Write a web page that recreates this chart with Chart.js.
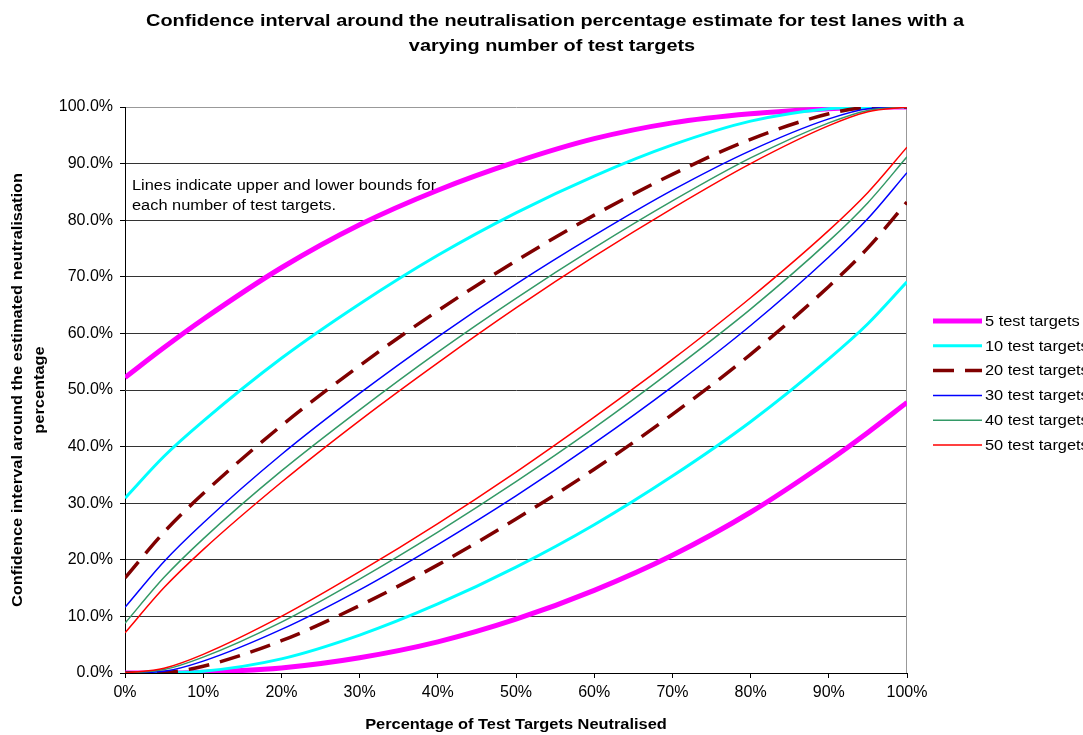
<!DOCTYPE html>
<html>
<head>
<meta charset="utf-8">
<script src="https://cdn.jsdelivr.net/npm/chart.js@4.4.1/dist/chart.umd.min.js"></script>
<style>
body{margin:0;background:#fff}
canvas{display:block}
</style>
</head>
<body>
<canvas id="ciChart" width="1083" height="735"></canvas>
<script>
// percentage neutralised (x)
const xPct=[0,5,10,20,30,40,50,60,70,80,90,95,100];

// upper / lower bounds, per number of test targets
const up5 =[52.2,57.5,62.5,71.6,79.2,85.3,90.3,94.4,97.2,98.8,99.7,99.95,100];
const lo5 =[0,0,0.15,0.9,2.7,5.5,9.5,14.6,20.8,28.4,37.5,42.5,47.8];
const up10=[30.9,38.3,44.5,55.6,65.2,73.8,81.3,87.8,93.3,97.5,99.7,99.95,100];
const lo10=[0,0.05,0.3,2.5,6.7,12.2,18.7,26.2,34.8,44.4,55.5,61.7,69.1];
const up20=[16.8,24.9,31.7,43.7,54.3,64.0,72.8,80.9,88.1,94.3,98.8,99.9,100];
const lo20=[0,0.1,1.2,5.7,11.9,19.1,27.2,36.0,45.7,56.3,68.3,75.1,83.2];
const up30=[11.6,19.7,26.5,38.6,49.4,59.4,68.7,77.3,85.3,92.3,97.9,99.7,100];
const lo30=[0,0.3,2.1,7.7,14.7,22.7,31.3,40.6,50.6,61.4,73.5,80.3,88.4];
const up40=[8.8,16.9,23.7,35.7,46.5,56.7,66.2,75.1,83.4,91.0,97.2,99.4,100];
const lo40=[0,0.6,2.8,9.0,16.6,24.9,33.8,43.3,53.5,64.3,76.3,83.1,91.2];
const up50=[7.1,15.1,21.8,33.7,44.6,54.8,64.5,73.6,82.1,90.0,96.7,99.15,100];
const lo50=[0,0.85,3.3,10.0,17.9,26.4,35.5,45.2,55.4,66.3,78.2,84.9,92.9];

const yTicks=[0,10,20,30,40,50,60,70,80,90,100];
const xTicks=[0,10,20,30,40,50,60,70,80,90,100];

const series=[
  {label:'5 test targets', up:up5, lo:lo5, color:'#FF00FF', w:5, dash:[]},
  {label:'10 test targets',up:up10,lo:lo10,color:'#00FFFF', w:3, dash:[]},
  {label:'20 test targets',up:up20,lo:lo20,color:'#800000', w:3.5, dash:[21,11]},
  {label:'30 test targets',up:up30,lo:lo30,color:'#0000FF', w:1.5, dash:[]},
  {label:'40 test targets',up:up40,lo:lo40,color:'#339966', w:1.5, dash:[]},
  {label:'50 test targets',up:up50,lo:lo50,color:'#FF0000', w:1.5, dash:[]}
];

const FONT='"Liberation Sans", Arial, sans-serif';
const SX=1.17; // the original text runs a bit wide
Chart.defaults.font.family=FONT;
Chart.defaults.color='#000';

function pts(ys){ return xPct.map((x,i)=>({x:x,y:ys[i]})) }

const datasets=[];
series.forEach((s,i)=>{
  [s.up,s.lo].forEach(ys=>{
    datasets.push({
      label:s.label,
      data:pts(ys),
      borderColor:s.color,
      borderWidth:s.w,
      borderDash:s.dash,
      pointRadius:0,
      fill:false,
      cubicInterpolationMode:'monotone',
      order:series.length-i
    });
  });
});

function txt(c,str,x,y,font,align,rot){
  c.save();
  c.translate(x,y);
  if(rot) c.rotate(rot);
  c.scale(SX,1);
  c.font=font;
  c.textAlign=align||'left';
  c.textBaseline='middle';
  c.fillText(str,0,0);
  c.restore();
}

// titles, note, legend, plot border
const decor={
  id:'decor',
  beforeDatasetsDraw(chart){
    const c=chart.ctx, a=chart.chartArea;
    c.save();
    c.strokeStyle='#999';
    c.lineWidth=1;
    c.beginPath();
    c.moveTo(a.right-0.5,a.top);
    c.lineTo(a.right-0.5,a.bottom);
    c.stroke();
    c.restore();
  },
  afterDraw(chart){
    const c=chart.ctx, a=chart.chartArea;
    const mid=(a.top+a.bottom)/2;
    c.save();
    c.fillStyle='#000';
    txt(c,'Confidence interval around the neutralisation percentage estimate for test lanes with a',555,21,'bold 17px '+FONT,'center');
    txt(c,'varying number of test targets',552,46,'bold 17px '+FONT,'center');

    txt(c,'Percentage of Test Targets Neutralised',(a.left+a.right)/2,725,'bold 14px '+FONT,'center');
    c.save();
    c.translate(18,mid);
    c.rotate(-Math.PI/2);
    c.scale(SX,1);
    c.font='bold 14px '+FONT;
    c.textAlign='center';
    c.textBaseline='middle';
    c.fillText('Confidence interval around the estimated neutralisation',0,0);
    c.fillText('percentage',0,22);
    c.restore();

    txt(c,'Lines indicate upper and lower bounds for',132,186,'14px '+FONT);
    txt(c,'each number of test targets.',132,206,'14px '+FONT);

    // legend (runs off the right edge like the original)
    series.forEach((s,i)=>{
      const y=321+i*24.8;
      c.strokeStyle=s.color;
      c.lineWidth=s.w;
      c.setLineDash(s.dash);
      c.beginPath();
      c.moveTo(933,y);
      c.lineTo(982,y);
      c.stroke();
      c.setLineDash([]);
      c.fillStyle='#000';
      txt(c,s.label,985,y+1,'14px '+FONT);
    });
    c.restore();
  }
};

new Chart(document.getElementById('ciChart'),{
  type:'line',
  data:{datasets:datasets},
  options:{
    responsive:false,
    animation:false,
    layout:{padding:{top:107,right:176,left:0,bottom:0}},
    plugins:{legend:{display:false},tooltip:{enabled:false}},
    scales:{
      x:{
        type:'linear',min:0,max:100,
        afterBuildTicks:s=>{s.ticks=xTicks.map(v=>({value:v}))},
        afterFit:s=>{s.height=62},
        ticks:{callback:v=>v+'%',font:{size:16},color:'#000',padding:5,maxRotation:0},
        grid:{drawOnChartArea:false,drawTicks:true,tickLength:5,tickColor:'#000'},
        border:{color:'#000',width:1}
      },
      y:{
        type:'linear',min:0,max:100,
        afterBuildTicks:s=>{s.ticks=yTicks.map(v=>({value:v}))},
        afterFit:s=>{s.width=125},
        ticks:{callback:v=>v.toFixed(1)+'%',font:{size:16},color:'#000',padding:7},
        grid:{color:c=>c.tick&&c.tick.value===100?'#999':'#333',lineWidth:1,tickLength:5,tickColor:'#000'},
        border:{color:'#000',width:1}
      }
    }
  },
  plugins:[decor]
});
</script>
</body>
</html>
